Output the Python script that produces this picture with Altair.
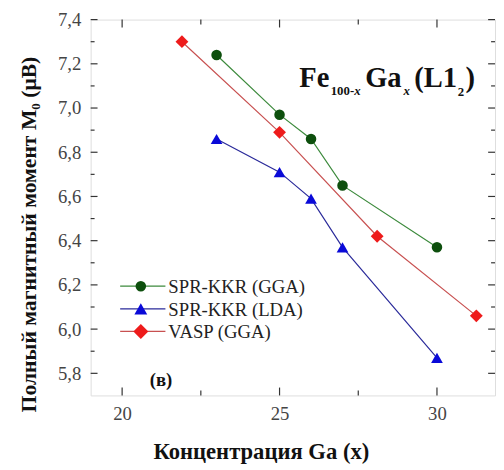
import altair as alt
import pandas as pd

# ---- data ----
series_names = ["SPR-KKR (GGA)", "SPR-KKR (LDA)", "VASP (GGA)"]
gga_x = [23, 25, 26, 27, 30]
gga_y = [7.24, 6.97, 6.86, 6.65, 6.37]
lda_x = [23, 25, 26, 27, 30]
lda_y = [6.86, 6.71, 6.59, 6.37, 5.87]
vasp_x = [21.9, 25, 28.1, 31.25]
vasp_y = [7.30, 6.89, 6.42, 6.06]

x_major = [20, 25, 30]
x_minor = [22.5, 27.5]
y_major = [5.8, 6.0, 6.2, 6.4, 6.6, 6.8, 7.0, 7.2, 7.4]
y_minor = [5.9, 6.1, 6.3, 6.5, 6.7, 6.9, 7.1, 7.3]

marker_colors = ["#0d4f0d", "#0a0ad8", "#ee1b1b"]
line_colors = ["#3c8a3c", "#2a2a9a", "#c85050"]
shapes = ["circle", "triangle-up", "diamond"]
sizes = [115, 170, 230]

rows = []
for name, xs_, ys_ in zip(series_names, [gga_x, lda_x, vasp_x], [gga_y, lda_y, vasp_y]):
    for xv, yv in zip(xs_, ys_):
        rows.append({"series": name, "x": xv, "y": yv})
df = pd.DataFrame(rows)

W, H = 411, 382
XD = [19, 19 + W / 32.0]
YD = [5.7, 7.4]
FONT = "Liberation Serif"

xs = alt.Scale(domain=XD, nice=False, zero=False)
ys = alt.Scale(domain=YD, nice=False, zero=False)

label_expr = "replace(format(datum.value, '.1f'), '.', ',')"

base = alt.Chart(df)

lines = base.mark_line(strokeWidth=1.2).encode(
    x=alt.X("x:Q", scale=xs,
            axis=alt.Axis(values=x_major, ticks=False, grid=False, domain=False,
                          labelFont=FONT, labelFontSize=19, labelColor="#444",
                          labelPadding=9, title="Концентрация Ga (x)",
                          titleFont=FONT, titleFontSize=23, titleFontWeight="bold",
                          titleColor="#111", titleX=173, titleY=57,
                          titleBaseline="middle")),
    y=alt.Y("y:Q", scale=ys,
            axis=alt.Axis(values=y_major, ticks=False, grid=False, domain=False,
                          labelExpr=label_expr, labelFont=FONT, labelFontSize=19,
                          labelColor="#444", labelPadding=10,
                          title="Полный магнитный момент M₀ (μB)",
                          titleFont=FONT, titleFontSize=22, titleFontWeight="bold",
                          titleColor="#111", titleX=-63, titleY=218,
                          titleAngle=270, titleBaseline="middle")),
    stroke=alt.Stroke("series:N", scale=alt.Scale(domain=series_names, range=line_colors),
                      legend=None),
    detail="series:N",
)

points = base.mark_point(filled=True, opacity=1).encode(
    x=alt.X("x:Q", scale=xs),
    y=alt.Y("y:Q", scale=ys),
    fill=alt.Fill("series:N", scale=alt.Scale(domain=series_names, range=marker_colors),
                  legend=None),
    shape=alt.Shape("series:N", scale=alt.Scale(domain=series_names, range=shapes),
                    legend=None),
    size=alt.Size("series:N", scale=alt.Scale(domain=series_names, range=sizes),
                  legend=None),
)

# ---- inward ticks ----
one = pd.DataFrame({"a": [0]})
tick_color = "#333"
ymaj = pd.DataFrame({"v": y_major})
ymin = pd.DataFrame({"v": y_minor})
xmaj = pd.DataFrame({"v": x_major})
xmin = pd.DataFrame({"v": x_minor})

tick_layers = []
for data, ln in [(ymaj, 7), (ymin, 4)]:
    tick_layers.append(alt.Chart(data).mark_rule(color=tick_color, strokeWidth=1.2).encode(
        y=alt.Y("v:Q", scale=ys), x=alt.value(0), x2=alt.value(ln)))
    tick_layers.append(alt.Chart(data).mark_rule(color=tick_color, strokeWidth=1.2).encode(
        y=alt.Y("v:Q", scale=ys), x=alt.value(W - ln), x2=alt.value(W)))
for data, ln in [(xmaj, 8), (xmin, 5)]:
    tick_layers.append(alt.Chart(data).mark_rule(color=tick_color, strokeWidth=1.2).encode(
        x=alt.X("v:Q", scale=xs), y=alt.value(H), y2=alt.value(H - ln)))
    tick_layers.append(alt.Chart(data).mark_rule(color=tick_color, strokeWidth=1.2).encode(
        x=alt.X("v:Q", scale=xs), y=alt.value(0), y2=alt.value(ln)))

# ---- manual legend ----
legend_layers = []
leg_y = [271, 294, 317]
for i, name in enumerate(series_names):
    legend_layers.append(alt.Chart(one).mark_rule(color=line_colors[i], strokeWidth=1.3).encode(
        x=alt.value(30), x2=alt.value(76), y=alt.value(leg_y[i])))
    legend_layers.append(alt.Chart(one).mark_point(
        filled=True, opacity=1, shape=shapes[i], size=sizes[i], fill=marker_colors[i]).encode(
        x=alt.value(51), y=alt.value(leg_y[i])))
    legend_layers.append(alt.Chart(one).mark_text(
        align="left", baseline="middle", font=FONT, fontSize=19, color="#222").encode(
        x=alt.value(79), y=alt.value(leg_y[i] + 1), text=alt.value(name)))

# ---- annotations ----
def txt(s, x, y, size, weight="bold", style="normal", baseline="alphabetic"):
    return alt.Chart(one).mark_text(
        align="left", baseline=baseline, font=FONT, fontSize=size,
        fontWeight=weight, fontStyle=style, color="#111").encode(
        x=alt.value(x), y=alt.value(y), text=alt.value(s))

ann = [
    txt("Fe", 212, 69, 29),
    txt("100-", 244, 77, 13),
    txt("x", 268, 77, 13, style="italic"),
    txt("Ga", 279, 69, 29),
    txt("x", 318, 77, 13, style="italic"),
    txt("(L1", 329, 69, 29),
    txt("2", 373, 78, 13),
    txt(")", 381, 69, 29),
    txt("(в)", 60, 366, 19, baseline="middle"),
]

chart = alt.layer(*tick_layers, lines, points, *legend_layers, *ann).properties(
    width=W, height=H,
    autosize=alt.AutoSizeParams(type="none"),
    padding={"left": 84, "top": 8, "right": 1, "bottom": 72},
).configure_view(stroke="#333", strokeWidth=1.5).configure(background="white")

chart.save("out.html", embed_options={"renderer": "svg", "actions": False})
